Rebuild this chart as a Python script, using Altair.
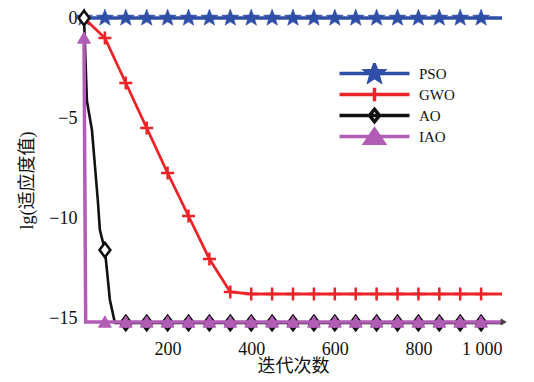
import math
import altair as alt
import pandas as pd

# ---------------- data ----------------
series = ["PSO", "GWO", "AO", "IAO"]
colors = ["#2f4ea6", "#ec2327", "#111111", "#b15cb5"]

pso_line_iter = [0, 1000]
pso_line_val = [0.0, 0.0]
pso_mark_iter = list(range(0, 1000, 50))
pso_mark_val = [0.0] * 20

gwo_line_iter = [0, 50, 100, 150, 200, 250, 300, 350, 400, 1000]
gwo_line_val = [0.0, -1.0, -3.25, -5.5, -7.75, -9.9, -12.05, -13.7, -13.8, -13.8]
gwo_mark_iter = list(range(50, 1000, 50))
gwo_mark_val = [-1.0, -3.25, -5.5, -7.75, -9.9, -12.05, -13.7,
                -13.8, -13.8, -13.8, -13.8, -13.8, -13.8, -13.8, -13.8, -13.8, -13.8, -13.8, -13.8]

ao_line_iter = [0, 7, 19, 33, 38, 50, 62, 74, 1000]
ao_line_val = [0.0, -4.15, -5.6, -9.1, -10.6, -11.6, -14.1, -15.25, -15.25]
ao_mark_iter = list(range(0, 1000, 50))
ao_mark_val = [0.0, -11.6] + [-15.25] * 18

iao_line_iter = [0, 4, 1000]
iao_line_val = [-1.0, -15.2, -15.2]
iao_mark_iter = list(range(0, 1000, 50))
iao_mark_val = [-1.0] + [-15.2] * 19

x_ticks = [200, 400, 600, 800, 1000]
y_ticks = [0, -5, -10, -15]
x_domain = [0, 1000]
y_domain = [-15.2, 0.5]

# ---------------- shapes ----------------
def star_path(r_in=0.42, s=1.0, dx=0.0):
    pts = []
    for k in range(10):
        a = math.radians(-90 + 36 * k)
        r = (1.0 if k % 2 == 0 else r_in) * s
        pts.append(f"{r*math.cos(a)+dx:.3f},{r*math.sin(a):.3f}")
    return "M" + "L".join(pts) + "Z"

STAR = star_path()
PLUS = "M-1,0L1,0M0,-1L0,1"
DIAMOND = "M0,-0.8L0.6,0L0,0.8L-0.6,0Z"
TRI = "M0,-0.75L0.8,0.65L-0.8,0.65Z"

# legend symbols: unit = 5 px (symbolSize 100); line spans the whole symbol column,
# the marker sits in its middle (shifted right so the entry clip keeps everything)
C = 6.0
LINE = "M-1,0L13,0"
legend_paths = [
    LINE + star_path(s=1.8, dx=C),
    LINE + f"M{C-1.3},0L{C+1.3},0M{C},-1.35L{C},1.35",
    LINE + f"M{C},-1.25L{C+1},0L{C},1.25L{C-1},0Z",
    LINE + f"M{C},-1.45L{C+1.9},1.35L{C-1.9},1.35Z",
]
legend_fills = [colors[0], colors[1], "#ffffff", colors[3]]

SERIF = "Liberation Serif, Noto Sans CJK SC"

xs = alt.Scale(domain=x_domain, nice=False, zero=False)
ys = alt.Scale(domain=y_domain, nice=False, zero=False)

x_axis = alt.Axis(values=x_ticks, title="迭代次数", grid=False, ticks=False,
                  labelExpr="replace(format(datum.value, ','), ',', ' ')",
                  labelFont=SERIF, labelFontSize=18, labelPadding=18, labelColor="#111",
                  titleFont=SERIF, titleFontSize=18, titleFontWeight="normal", titleColor="#111",
                  titleY=44, titleBaseline="middle",
                  domainColor="#444", domainWidth=1)
y_axis = alt.Axis(values=y_ticks, title="lg(适应度值)", grid=False, ticks=False,
                  labelFont=SERIF, labelFontSize=18, labelPadding=7, labelColor="#111",
                  titleFont=SERIF, titleFontSize=18, titleFontWeight="normal", titleColor="#111",
                  titleX=-57, titleY=172, titleBaseline="middle", titleAngle=270,
                  domainColor="#444", domainWidth=1)


def xy():
    return dict(x=alt.X("iter:Q", scale=xs, axis=x_axis),
                y=alt.Y("val:Q", scale=ys, axis=y_axis))


def line_layer(it, val, color, width):
    df = pd.DataFrame({"iter": it, "val": val})
    return alt.Chart(df).mark_line(color=color, strokeWidth=width).encode(order="iter:Q", **xy())


def mark_layer(it, val, shape, size, fill, stroke, sw):
    df = pd.DataFrame({"iter": it, "val": val})
    return alt.Chart(df).mark_point(shape=shape, size=size, fill=fill, stroke=stroke,
                                    strokeWidth=sw, opacity=1).encode(**xy())


layers = [
    line_layer(pso_line_iter, pso_line_val, colors[0], 3.5),
    mark_layer(pso_mark_iter, pso_mark_val, STAR, 324, colors[0], colors[0], 0.5),
    line_layer(gwo_line_iter, gwo_line_val, colors[1], 2.8),
    mark_layer(gwo_mark_iter, gwo_mark_val, PLUS, 169, "transparent", colors[1], 2.5),
    line_layer(ao_line_iter, ao_line_val, colors[2], 2.6),
    mark_layer(ao_mark_iter, ao_mark_val, DIAMOND, 324, "#ffffff", colors[2], 2.6),
    line_layer(iao_line_iter, iao_line_val, colors[3], 3.5),
    mark_layer(iao_mark_iter, iao_mark_val, TRI, 256, colors[3], colors[3], 1),
]

# axis arrow head
arrow = alt.Chart(pd.DataFrame({"iter": [1004], "val": [y_domain[0]]})).mark_point(
    shape="triangle-right", size=40, fill="#444", stroke="#444", strokeWidth=0.5, opacity=1
).encode(**xy())
layers.append(arrow)

# legend (drawn by the library from scale domains)
leg = alt.Legend(title=None, orient="none", legendX=253, legendY=55, padding=0,
                 symbolSize=100, symbolStrokeWidth=3.5, labelOffset=67,
                 labelFont=SERIF, labelFontSize=15, labelColor="#111",
                 rowPadding=0, clipHeight=21, labelLimit=200)
legend_layer = alt.Chart(pd.DataFrame({"series": series})).transform_filter("false").mark_point(
    opacity=1, strokeWidth=3.5
).encode(
    fill=alt.Fill("series:N", scale=alt.Scale(domain=series, range=legend_fills), legend=leg, sort=series),
    stroke=alt.Stroke("series:N", scale=alt.Scale(domain=series, range=colors), legend=leg, sort=series),
    shape=alt.Shape("series:N", scale=alt.Scale(domain=series, range=legend_paths), legend=leg, sort=series),
)
layers.append(legend_layer)

chart = alt.layer(*layers).properties(
    width=418, height=314,
    autosize=alt.AutoSizeParams(type="none"),
    padding={"left": 76, "top": 0, "right": 24, "bottom": 52},
    background="white",
).configure_view(stroke=None)

chart.save("out.html", embed_options={"renderer": "svg", "actions": False})
